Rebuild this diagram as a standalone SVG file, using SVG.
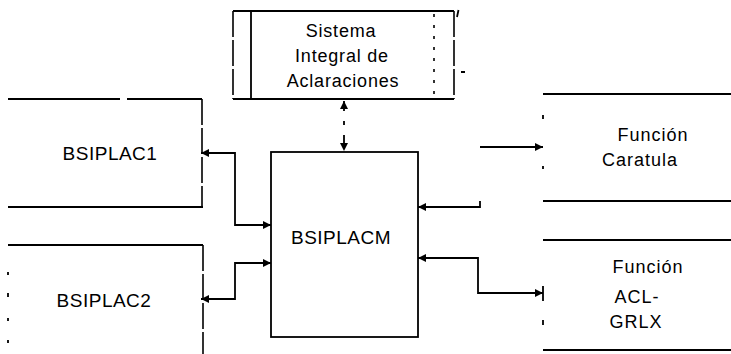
<svg xmlns="http://www.w3.org/2000/svg" width="731" height="354" viewBox="0 0 731 354">
<style>
.ln{stroke:#000;stroke-width:1.8;fill:none}
.dsh{stroke:#000;stroke-width:1.6;fill:none;stroke-dasharray:26 3}
.dot{stroke:#000;stroke-width:1.6;fill:none;stroke-dasharray:3 8}
.t{font-family:"Liberation Sans",Arial,sans-serif;font-size:18px;letter-spacing:0.8px;fill:#000;text-anchor:middle}
.tb{font-family:"Liberation Sans",Arial,sans-serif;font-size:19px;letter-spacing:0.5px;fill:#000;text-anchor:middle}
.tr{font-family:"Liberation Sans",Arial,sans-serif;font-size:18px;letter-spacing:1px;fill:#000;text-anchor:middle}
</style>
<defs>
<marker id="ah" viewBox="0 0 10 10" refX="10" refY="5" markerWidth="10" markerHeight="8" markerUnits="userSpaceOnUse" orient="auto-start-reverse">
<path d="M0,0 L10,5 L0,10 z" fill="#000"/>
</marker>
</defs>
<rect width="731" height="354" fill="#fff"/>

<g id="sistema">
<path class="ln" d="M233,11 H454 M233,99 H454 M251,11 V99"/>
<path class="dsh" d="M233,11 V99 M454,11 V99"/>
<path class="dot" d="M434,14 V99"/>
<text class="t" x="341" y="37">Sistema</text>
<text class="t" x="342" y="62">Integral de</text>
<text class="t" x="343" y="87">Aclaraciones</text>
</g>

<g id="bsiplac1">
<path class="ln" d="M8,99 H120 M127,99 H202 M8,207 H203"/>
<path class="dsh" d="M202,99 V207"/>
<text class="tb" x="110" y="160">BSIPLAC1</text>
</g>

<g id="bsiplac2">
<path class="ln" d="M8,245 H203"/>
<path class="dsh" d="M203,245 V354"/>
<path class="ln" d="M8,272 V275 M8,293 V297 M8,318 V321 M8,340 V343"/>
<text class="tb" x="104" y="307">BSIPLAC2</text>
</g>

<g id="bsiplacm">
<rect class="ln" x="271" y="152" width="147" height="185"/>
<text class="tb" x="341" y="244">BSIPLACM</text>
</g>

<g id="caratula">
<path class="ln" d="M543,94 H731 M543,201 H731"/>
<path class="ln" d="M543,115 V119 M543,166 V169"/>
<text class="tr" x="653" y="141">Función</text>
<text class="tr" x="640" y="166">Caratula</text>
</g>

<g id="aclgrlx">
<path class="ln" d="M543,240 H731 M543,350 H731"/>
<path class="ln" d="M543,286 V301 M543,320 V325"/>
<text class="tr" x="648" y="273">Función</text>
<text class="tr" x="637" y="303">ACL-</text>
<text class="tr" x="636" y="328">GRLX</text>
</g>

<g id="connectors">
<path class="ln" stroke-dasharray="10 10 4 10 10" d="M344,101 V151" marker-start="url(#ah)" marker-end="url(#ah)"/>
<path class="ln" d="M201,153 H235 V225 H271" marker-start="url(#ah)" marker-end="url(#ah)"/>
<path class="ln" d="M201,299 H235 V263 H271" marker-start="url(#ah)" marker-end="url(#ah)"/>
<path class="ln" d="M480,147 H543" marker-end="url(#ah)"/>
<path class="ln" d="M480,201 V207 H418" marker-end="url(#ah)"/>
<path class="ln" d="M418,258 H478 V293 H543" marker-start="url(#ah)" marker-end="url(#ah)"/>
</g>

<path class="ln" stroke-width="1.2" d="M457,17 L458.5,10 M461,72 H465"/>
</svg>
